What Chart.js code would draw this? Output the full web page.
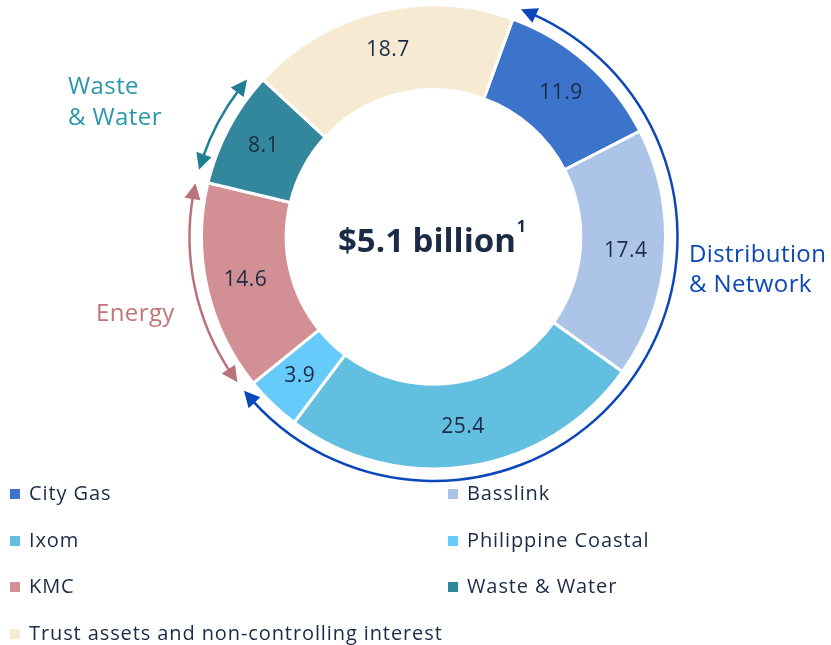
<!DOCTYPE html>
<html>
<head>
<meta charset="utf-8">
<script src="https://cdn.jsdelivr.net/npm/chart.js@4"></script>
<style>
  body { margin: 0; background: #fff; }
  #wrap { position: relative; width: 831px; height: 645px; }
  #legend { position: absolute; left: 0; top: 0; width: 831px; height: 645px; pointer-events: none;
            font-family: "Open Sans", sans-serif; font-size: 20px; font-weight: 500; letter-spacing: 0.9px; color: #1b2a45; }
  .item { position: absolute; white-space: nowrap; line-height: 24px; }
  .box { display: inline-block; width: 10px; height: 10px; margin-right: 9px; vertical-align: 1px; }
</style>
</head>
<body>
<div id="wrap">
  <canvas id="myChart"></canvas>
  <div id="legend"></div>
</div>
<script>

const labels = ['City Gas', 'Basslink', 'Ixom', 'Philippine Coastal', 'KMC', 'Waste & Water', 'Trust assets and non-controlling interest'];
const values = [11.9, 17.4, 25.4, 3.9, 14.6, 8.1, 18.7];
const colors = ['#3c74cc', '#abc4e8', '#62bfe0', '#66cbfa', '#d39094', '#33879c', '#f6ebd2'];

const centreText = '$5.1 billion';
const centreNote = '1';

// segments grouped by business, first..last index
const groupNames = [['Distribution', '& Network'], ['Energy'], ['Waste', '& Water']];
const groupFirst = [0, 4, 5];
const groupLast = [3, 4, 5];

const groupStyle = [
    { line: '#0a47bb', text: '#0b47b5', x: 689, y: [255, 285], pad: [1, 0] },
    { line: '#b9737b', text: '#c0747c', x: 96, y: [314], pad: [2.5, 0.8] },
    { line: '#1f7e92', text: '#2c97ab', x: 68, y: [87, 118], pad: [2.5, 2.5] },
];

const NAVY = '#1b2a45';
const deg = Math.PI / 180;

function arrowHead(ctx, cx, cy, r, tipA, dir) {
    const len = 16, half = 8;
    const baseA = tipA + dir * len / r;
    const tx = cx + r * Math.cos(tipA), ty = cy + r * Math.sin(tipA);
    const bx = cx + r * Math.cos(baseA), by = cy + r * Math.sin(baseA);
    const nx = Math.cos(baseA), ny = Math.sin(baseA);
    ctx.beginPath();
    ctx.moveTo(tx, ty);
    ctx.lineTo(bx + nx * half, by + ny * half);
    ctx.lineTo(bx - nx * half, by - ny * half);
    ctx.closePath();
    ctx.fill();
}

const overlay = {
    id: 'overlay',
    afterDraw(chart) {
        const ctx = chart.ctx;
        const arcs = chart.getDatasetMeta(0).data;
        const cx = arcs[0].x, cy = arcs[0].y;
        const outer = arcs[0].outerRadius, inner = arcs[0].innerRadius;
        ctx.save();

        // values on the ring
        ctx.fillStyle = NAVY;
        ctx.font = '500 21px "Open Sans"';
        ctx.letterSpacing = '0.5px';
        ctx.textAlign = 'center';
        ctx.textBaseline = 'middle';
        arcs.forEach((arc, i) => {
            const a = (arc.startAngle + arc.endAngle) / 2;
            const r = (inner + outer) / 2 + 3;
            ctx.fillText(values[i].toFixed(1), cx + r * Math.cos(a), cy + r * Math.sin(a));
        });
        ctx.letterSpacing = '0px';

        // centre text
        ctx.font = 'bold 33px "Open Sans"';
        const w1 = ctx.measureText(centreText).width;
        ctx.font = 'bold 16px "Open Sans"';
        const w2 = ctx.measureText(centreNote).width;
        const x0 = cx - 2 - (w1 + w2) / 2;
        ctx.textAlign = 'left';
        ctx.textBaseline = 'alphabetic';
        ctx.font = 'bold 33px "Open Sans"';
        ctx.fillText(centreText, x0, cy + 15);
        ctx.font = 'bold 16px "Open Sans"';
        ctx.fillText(centreNote, x0 + w1 + 1, cy - 5);

        // group arcs with arrows
        const rr = outer + 12;
        groupNames.forEach((name, g) => {
            const st = groupStyle[g];
            const a0 = arcs[groupFirst[g]].startAngle + st.pad[0] * deg;
            const a1 = arcs[groupLast[g]].endAngle - st.pad[1] * deg;
            ctx.strokeStyle = st.line;
            ctx.fillStyle = st.line;
            ctx.lineWidth = 2.5;
            ctx.beginPath();
            ctx.arc(cx, cy, rr, a0 + 12 / rr, a1 - 12 / rr);
            ctx.stroke();
            arrowHead(ctx, cx, cy, rr, a0, 1);
            arrowHead(ctx, cx, cy, rr, a1, -1);

            ctx.fillStyle = st.text;
            ctx.font = '500 24px "Open Sans"';
            ctx.letterSpacing = '0.4px';
            ctx.textAlign = 'left';
            ctx.textBaseline = 'middle';
            name.forEach((line, k) => ctx.fillText(line, st.x, st.y[k]));
            ctx.letterSpacing = '0px';
        });
        ctx.restore();
    }
};

const data = {
    labels: labels,
    datasets: [{
        data: values,
        backgroundColor: colors,
        borderColor: '#ffffff',
        borderWidth: 3,
        hoverOffset: 0,
    }],
};

const config = {
    type: 'doughnut',
    data: data,
    options: {
        responsive: true,
        maintainAspectRatio: false,
        animation: false,
        cutout: '63.5%',
        rotation: 20,
        layout: {
            padding: { left: 200, right: 164, top: 3.5, bottom: 174.5 }
        },
        plugins: {
            legend: { display: false },
            tooltip: { enabled: false },
        }
    },
    plugins: [overlay],
};

const ctx = document.getElementById('myChart');
let myChart = new Chart(ctx, config);

// legend in two columns, built from the chart's own data
const legendX = [10, 448];
const legendY = [493, 540, 586, 633];
const legend = document.getElementById('legend');
labels.forEach((label, i) => {
    const el = document.createElement('div');
    el.className = 'item';
    el.style.left = legendX[i % 2] + 'px';
    el.style.top = (legendY[Math.floor(i / 2)] - 12) + 'px';
    el.innerHTML = '<span class="box" style="background:' + colors[i] + '"></span>';
    el.appendChild(document.createTextNode(label));
    legend.appendChild(el);
});
</script>
</body>
</html>
